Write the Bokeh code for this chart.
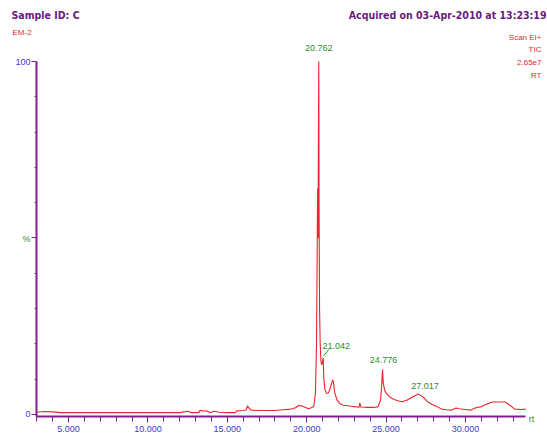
from bokeh.plotting import figure
from bokeh.models import Range1d, FixedTicker, PrintfTickFormatter, Label
from bokeh.embed import file_html
from bokeh.resources import INLINE

# ---- data ----
rt = [3.0, 3.5, 4.0, 4.5, 5.0, 6.0, 7.0, 8.0, 9.0, 10.0, 11.0, 12.0, 12.5, 12.7,
      13.2, 13.3, 13.5, 13.7, 13.9, 14.2, 14.5, 15.0, 15.5, 15.6, 16.0, 16.2, 16.27,
      16.4, 16.5, 17.0, 17.5, 18.0, 18.5, 19.0, 19.3, 19.5, 19.7, 19.9, 20.1, 20.3,
      20.45, 20.55, 20.62, 20.66, 20.69, 20.72, 20.74, 20.762, 20.78, 20.81, 20.85,
      20.9, 20.95, 21.0, 21.042, 21.08, 21.15, 21.25, 21.35, 21.45, 21.55, 21.64,
      21.69, 21.75, 21.9, 22.1, 22.3, 22.5, 22.8, 23.0, 23.3, 23.35, 23.4, 23.7,
      24.0, 24.3, 24.5, 24.65, 24.72, 24.776, 24.82, 24.9, 25.0, 25.2, 25.5, 25.8,
      26.0, 26.3, 26.6, 26.9, 27.017, 27.1, 27.3, 27.4, 27.6, 27.9, 28.2, 28.5,
      28.8, 29.1, 29.4, 29.6, 30.0, 30.3, 30.6, 31.0, 31.4, 31.7, 32.5, 32.8,
      33.1, 33.5, 33.8]
intensity = [0.6, 0.8, 0.7, 0.5, 0.5, 0.5, 0.5, 0.5, 0.5, 0.5, 0.5, 0.5, 0.9, 0.5,
             0.5, 1.2, 0.9, 1.0, 0.5, 0.9, 0.6, 0.5, 0.5, 1.0, 1.1, 1.3, 2.4,
             1.6, 1.2, 1.1, 1.1, 1.1, 1.3, 1.5, 1.9, 2.5, 2.4, 2.0, 1.6, 1.9,
             2.3, 6.0, 20.0, 45.0, 64.0, 50.0, 80.0, 100.0, 60.0, 30.0, 20.0,
             15.0, 14.0, 15.0, 16.0, 10.0, 7.0, 6.0, 6.0, 7.0, 8.5, 9.8,
             9.0, 6.5, 4.2, 3.0, 2.6, 2.5, 2.3, 2.2, 2.0, 3.3, 2.1, 2.0,
             2.0, 2.0, 2.2, 4.0, 8.0, 12.7, 9.0, 7.0, 6.0, 5.0, 4.2, 3.8,
             3.6, 4.0, 4.8, 5.5, 5.8, 5.6, 5.0, 4.6, 3.6, 2.8, 2.2, 1.5,
             1.3, 1.2, 1.8, 1.6, 1.4, 1.2, 1.8, 2.2, 3.0, 3.5, 3.5, 2.6,
             1.5, 1.4, 1.5]

peak_rt = [20.762, 21.042, 24.776, 27.017]
peak_int = [100.0, 16.0, 12.7, 5.8]
peak_text = ["20.762", "21.042", "24.776", "27.017"]

x_ticks = [5, 10, 15, 20, 25, 30]
x_minor = list(range(3, 34))
y_ticks = [0, 50, 100]
y_minor = [10, 20, 30, 40, 60, 70, 80, 90]

x_axis_span = (2.985, 33.78)   # rt shown along the axis
y_axis_span = (-0.6, 100.0)    # % shown along the axis

PURPLE = "#80208c"
TITLE = "#6b1a80"
RED = "#e8262b"
BLUE = "#3a3ad0"
GREEN = "#2e8a34"

W, H = 547, 436
AX_L, AX_R, AX_T, AX_B = 36, 525, 61, 416   # axis ends in page pixels

# the frame fills the whole canvas; the axes are pinned inside it
xs = (x_axis_span[1] - x_axis_span[0]) / (AX_R - AX_L)
ys = (y_axis_span[1] - y_axis_span[0]) / (AX_B - AX_T)
x0 = x_axis_span[0] - AX_L * xs
x1 = x_axis_span[1] + (W - AX_R) * xs
y0 = y_axis_span[0] - (H - AX_B) * ys
y1 = y_axis_span[1] + AX_T * ys

p = figure(width=W, height=H, output_backend="svg", toolbar_location=None,
           x_range=Range1d(x0, x1), y_range=Range1d(y0, y1),
           min_border=0, background_fill_color="white",
           border_fill_color="white", outline_line_color=None)
p.grid.visible = False

p.line(rt, intensity, line_color=RED, line_width=1.1)

# axes
xa = p.xaxis[0]
xa.fixed_location = y_axis_span[0]
xa.bounds = x_axis_span
xa.ticker = FixedTicker(ticks=x_ticks, minor_ticks=x_minor)
xa.formatter = PrintfTickFormatter(format="%.3f")
xa.axis_line_color = PURPLE
xa.axis_line_width = 2
xa.major_tick_line_color = PURPLE
xa.minor_tick_line_color = PURPLE
xa.major_tick_out = 6
xa.major_tick_in = 0
xa.minor_tick_out = 5
xa.minor_tick_in = 0
xa.major_label_standoff = 3
xa.major_label_text_color = BLUE
xa.major_label_text_font = "Liberation Sans"
xa.major_label_text_font_size = "9px"

ya = p.yaxis[0]
ya.fixed_location = x_axis_span[0]
ya.bounds = y_axis_span
ya.ticker = FixedTicker(ticks=y_ticks, minor_ticks=y_minor)
ya.major_label_overrides = {0: "0", 50: "", 100: "100"}
ya.axis_line_color = PURPLE
ya.axis_line_width = 2
ya.major_tick_line_color = PURPLE
ya.minor_tick_line_color = PURPLE
ya.major_tick_out = 5
ya.major_tick_in = 0
ya.minor_tick_out = 2
ya.minor_tick_in = 0
ya.major_label_standoff = 1
ya.major_label_text_color = BLUE
ya.major_label_text_font = "Liberation Sans"
ya.major_label_text_font_size = "9px"


def add_text(txt, page_x, page_y, color, size, align="left", bold=False,
             font="Liberation Sans"):
    # screen units: from the frame's bottom-left corner (= canvas here)
    p.add_layout(Label(x=page_x, y=H - page_y, x_units="screen",
                       y_units="screen", text=txt,
                       text_color=color, text_font_size=size, text_font=font,
                       text_align=align, text_baseline="middle",
                       text_font_style="bold" if bold else "normal"))


add_text("Sample ID: C", 11, 14, TITLE, "10.5px", bold=True, font="DejaVu Sans Condensed")
add_text("Acquired on 03-Apr-2010 at 13:23:19", 546, 14, TITLE, "10.5px", align="right",
         bold=True, font="DejaVu Sans Condensed")
add_text("EM-2", 12, 32, RED, "8px")
add_text("Scan EI+", 541, 37, RED, "8px", align="right")
add_text("TIC", 541, 49, RED, "8px", align="right")
add_text("2.65e7", 541, 62, RED, "8px", align="right")
add_text("RT", 541, 75, RED, "8px", align="right")
add_text("%", 26, 238, GREEN, "9px", align="center")
add_text("rt", 531, 418, GREEN, "9px", align="center")

# peak labels
offsets = [(0, 14), (13, 12), (1, 10), (7, 8)]
for x, y, t, (dx, dy) in zip(peak_rt, peak_int, peak_text, offsets):
    p.add_layout(Label(x=x, y=y, text=t, x_offset=dx, y_offset=dy,
                       text_color=GREEN, text_font_size="9px",
                       text_font="Liberation Sans", text_align="center",
                       text_baseline="middle"))

# leader line for the 21.042 label
lx, ly = peak_rt[1], peak_int[1]
p.segment(x0=[lx + 0.03], y0=[ly + 0.6], x1=[lx + 0.35], y1=[ly + 2.4],
          line_color=GREEN, line_width=1)

open("out.html", "w").write(file_html(p, INLINE))
